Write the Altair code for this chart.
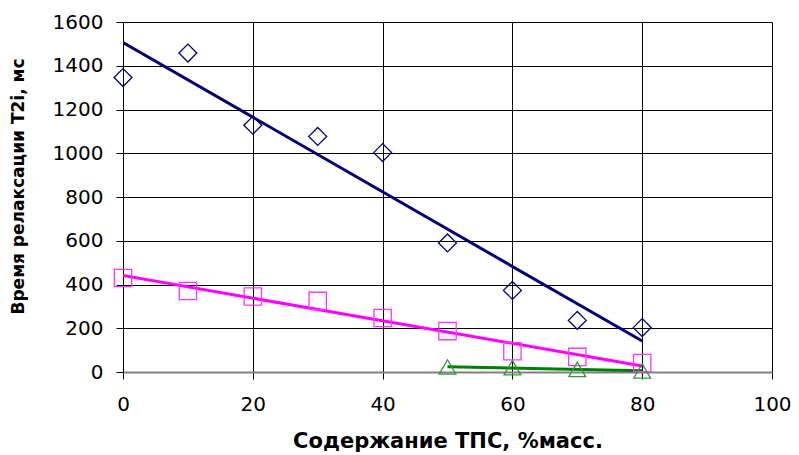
import altair as alt
import pandas as pd

# Data
x_main = [0, 10, 20, 30, 40, 50, 60, 70, 80]
t2_blue = [1346, 1458, 1128, 1077, 1003, 590, 373, 236, 203]
t2_magenta = [430, 370, 345, 325, 247, 187, 95, 69, 41]
x_green = [50, 60, 70, 80]
t2_green = [23, 20, 12, 5]

series_names = ["T2a", "T2b", "T2c"]
point_colors = ["#000080", "#FF33FF", "#339933"]
line_colors = ["#000080", "#FF00FF", "#008000"]
shapes = ["diamond", "square", "triangle-up"]

rows = []
for xv, yv in zip(x_main, t2_blue):
    rows.append({"x": xv, "T2": yv, "series": series_names[0]})
for xv, yv in zip(x_main, t2_magenta):
    rows.append({"x": xv, "T2": yv, "series": series_names[1]})
for xv, yv in zip(x_green, t2_green):
    rows.append({"x": xv, "T2": yv, "series": series_names[2]})
df = pd.DataFrame(rows)

FONT = "DejaVu Sans"

x_enc = alt.X(
    "x:Q",
    scale=alt.Scale(domain=[0, 100], nice=False),
    axis=alt.Axis(
        title="Содержание ТПС, %масс.",
        values=[0, 20, 40, 60, 80, 100],
        format="d",
        labelFlush=False,
        grid=True, gridColor="#000000", gridWidth=1, gridOpacity=1,
        domainColor="#808080", domainWidth=2,
        tickColor="#000000", tickSize=7, tickWidth=1,
        labelFont=FONT, labelFontSize=20, labelColor="#000000", labelPadding=15,
        titleFont=FONT, titleFontSize=21, titleFontWeight="bold", titleColor="#000000",
        titleBaseline="middle", titleY=69,
    ),
)
y_enc = alt.Y(
    "T2:Q",
    scale=alt.Scale(domain=[0, 1600], nice=False),
    axis=alt.Axis(
        title="Время релаксации T2i, мс",
        values=list(range(0, 1601, 200)),
        format="d",
        labelFlush=False,
        grid=True, gridColor="#000000", gridWidth=1, gridOpacity=1,
        domainColor="#000000", domainWidth=1,
        tickColor="#000000", tickSize=7, tickWidth=1,
        labelFont=FONT, labelFontSize=20, labelColor="#000000", labelPadding=13,
        titleFont=FONT, titleFontSize=17, titleFontWeight="bold", titleColor="#000000",
        titleAngle=270, titleBaseline="middle", titleAlign="center",
        titleX=-105, titleY=164,
    ),
)

lines = alt.Chart(df).transform_regression(
    "x", "T2", groupby=["series"]
).mark_line(strokeWidth=3, clip=True).encode(
    x=x_enc,
    y=y_enc,
    color=alt.Color("series:N", scale=alt.Scale(domain=series_names, range=line_colors), legend=None),
)

points = alt.Chart(df).mark_point(filled=False, strokeWidth=1.3, opacity=1).encode(
    x=alt.X("x:Q"),
    y=alt.Y("T2:Q"),
    stroke=alt.Stroke("series:N", scale=alt.Scale(domain=series_names, range=point_colors), legend=None),
    shape=alt.Shape("series:N", scale=alt.Scale(domain=series_names, range=shapes), legend=None),
    size=alt.Size("series:N", scale=alt.Scale(domain=series_names, range=[320, 280, 360]), legend=None),
)

chart = alt.layer(lines, points).properties(
    width=649,
    height=350,
    autosize=alt.AutoSizeParams(type="none"),
    padding={"left": 115, "top": 14, "right": 19, "bottom": 83},
    background="#FFFFFF",
).configure_view(stroke=None)

chart.save("out.html", embed_options={"renderer": "svg", "actions": False})
